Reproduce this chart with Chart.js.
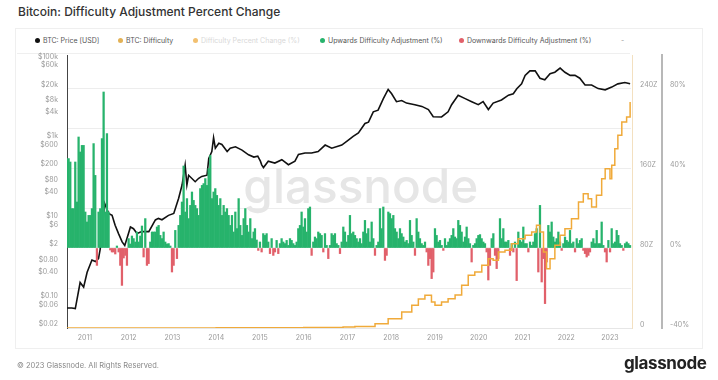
<!DOCTYPE html>
<html><head><meta charset="utf-8">
<script src="https://cdn.jsdelivr.net/npm/chart.js@4.4.0/dist/chart.umd.min.js"></script>
<style>
html,body{margin:0;padding:0;background:#fff;}
body{width:718px;height:380px;position:relative;overflow:hidden;font-family:Inter,"Noto Sans",sans-serif;}
#title{position:absolute;left:18px;top:4px;font-size:12px;font-weight:500;color:#333;line-height:16px;white-space:nowrap;}
#card{position:absolute;left:15px;top:28px;width:686px;height:319px;border:1px solid #efefef;}
#legendbox{position:absolute;left:17px;top:30px;width:613px;height:23px;border-bottom:1px solid #efefef;}
.li{position:absolute;top:36px;font-size:7px;color:#555;white-space:nowrap;line-height:10px;}
.dot{display:inline-block;width:5px;height:5px;border-radius:50%;margin-right:3px;}
canvas{position:absolute;left:0;top:0;}
#foot{position:absolute;left:17px;top:361px;font-size:7.5px;color:#888;white-space:nowrap;}
#logo{position:absolute;left:624px;top:353px;font-size:17px;font-weight:700;color:#222;letter-spacing:-0.4px;}
</style></head>
<body>
<div id="title">Bitcoin: Difficulty Adjustment Percent Change</div>
<div id="card"></div>
<div id="legendbox"></div>
<div class="li" style="left:35px"><span class="dot" style="background:#111"></span>BTC: Price [USD]</div>
<div class="li" style="left:118px"><span class="dot" style="background:#e3b256"></span>BTC: Difficulty</div>
<div class="li" style="left:193px;color:#d8d8d8"><span class="dot" style="background:#f2c070"></span>Difficulty Percent Change (%)</div>
<div class="li" style="left:320px"><span class="dot" style="background:#27b36c"></span>Upwards Difficulty Adjustment (%)</div>
<div class="li" style="left:459px"><span class="dot" style="background:#e1606a"></span>Downwards Difficulty Adjustment (%)</div>
<div class="li" style="left:621px;color:#999">-</div>
<canvas id="c" width="718" height="380"></canvas>
<div id="foot">© 2023 Glassnode. All Rights Reserved.</div>
<div id="logo">glassnode</div>
<script>
// ---- data ----
const xTickYears = [2011,2012,2013,2014,2015,2016,2017,2018,2019,2020,2021,2022,2023];
const priceTicks = [0.02,0.06,0.1,0.4,0.8,2,6,10,40,80,200,600,1000,4000,8000,20000,60000,100000];
const priceTickLabels = ['$0.02','$0.06','$0.10','$0.40','$0.80','$2','$6','$10','$40','$80','$200','$600','$1k','$4k','$8k','$20k','$60k','$100k'];
const diffTicks = [0,80,160,240];
const pctTicks = [-40,-20,0,20,40,60,80];

const priceSeries = [
[2010.59,0.06],[2010.70,0.06],[2010.78,0.058],[2010.82,0.10],[2010.89,0.26],[2010.97,0.2],[2011.05,0.47],[2011.16,0.95],[2011.24,0.87],[2011.31,1.03],[2011.35,1.8],[2011.45,25],[2011.54,14],[2011.62,12.5],[2011.69,7.1],[2011.77,4.3],[2011.85,2.7],[2011.91,2.2],[2011.96,3.3],
[2012.04,6.4],[2012.11,5.8],[2012.19,4.4],[2012.30,4.9],[2012.46,4.9],[2012.61,9.6],[2012.68,10.5],[2012.76,9.7],[2012.91,12.5],
[2013.03,14],[2013.14,33],[2013.22,72],[2013.29,225],[2013.33,72],[2013.37,126],[2013.52,87],[2013.60,106],[2013.67,118],[2013.79,127],[2013.83,335],[2013.90,495],[2013.94,1100],[2013.98,600],
[2014.06,800],[2014.13,745],[2014.25,495],[2014.32,600],[2014.44,650],[2014.59,540],[2014.74,410],[2014.86,360],[2014.95,380],
[2015.01,285],[2015.04,230],[2015.08,197],[2015.19,285],[2015.34,255],[2015.50,310],[2015.65,232],[2015.80,285],[2015.88,420],
[2016.03,455],[2016.18,455],[2016.33,495],[2016.49,720],[2016.64,600],[2016.87,720],
[2017.02,960],[2017.13,1190],[2017.25,1450],[2017.40,2500],[2017.48,2700],[2017.59,4900],[2017.70,5400],[2017.82,10500],[2017.93,17800],
[2018.01,13900],[2018.12,8800],[2018.24,9400],[2018.35,8100],[2018.54,7400],[2018.70,6700],[2018.85,5600],[2018.96,3700],
[2019.15,3650],[2019.30,4900],[2019.38,7400],[2019.53,12800],[2019.69,10500],[2019.84,8800],[2019.99,7400],
[2020.10,8800],[2020.22,5600],[2020.33,8100],[2020.52,9700],[2020.68,12800],[2020.79,13900],[2020.87,18600],[2020.98,24600],
[2021.06,40000],[2021.17,52000],[2021.29,52000],[2021.40,34000],[2021.51,31000],[2021.63,44000],[2021.74,48000],[2021.86,61000],[2021.97,48000],
[2022.09,40000],[2022.20,40000],[2022.31,34000],[2022.43,23000],[2022.58,23000],[2022.73,18700],[2022.89,17400],
[2023.04,20400],[2023.18,24600],[2023.34,26500],[2023.46,24800]
];

const difficultySeries = [
[2010.59,0],[2014.0,0.2],[2016.0,0.5],[2016.9,1],[2017.17,1.5],[2017.63,4.3],[2017.93,9.3],[2018.24,16],[2018.47,22.7],[2018.62,29],[2018.77,32.7],[2018.92,26],
[2019.00,22.7],[2019.15,26],[2019.30,29.3],[2019.46,33],[2019.61,42.7],[2019.76,52.7],[2019.91,56],[2020.07,62.7],[2020.22,69.3],[2020.33,67.7],[2020.45,76],[2020.60,77.7],
[2020.75,84.3],[2020.90,89.3],[2021.06,92.7],[2021.21,96],[2021.32,102.7],[2021.40,96],[2021.48,76],[2021.55,59.3],[2021.63,69.3],[2021.74,82.7],[2021.86,92.7],[2021.97,99.3],
[2022.12,109.3],[2022.28,126],[2022.39,134.3],[2022.50,129.3],[2022.58,121],[2022.69,132.7],[2022.81,149.3],[2022.89,159.3],[2023.00,149.3],[2023.04,162.7],
[2023.11,179.3],[2023.18,192.7],[2023.27,206],[2023.38,211],[2023.46,226]
];

const adjustmentSeries = [
[2010.589,44.7],[2010.627,44.7],[2010.665,43],[2010.703,19.7],[2010.741,19.7],[2010.779,43],[2010.817,23],[2010.855,55.5],[2010.893,48],[2010.931,51.3],
[2010.970,51.3],[2011.008,18],[2011.046,13],[2011.084,16.3],[2011.122,16.3],[2011.160,19.7],[2011.198,52.2],[2011.236,36.3],[2011.274,-8.7],[2011.312,18],
[2011.350,19.7],[2011.389,54.7],[2011.427,78],[2011.465,18],[2011.503,57.2],[2011.541,18],[2011.579,-1],[2011.617,-2],[2011.655,-2],[2011.693,-3],
[2011.731,1],[2011.770,-2],[2011.808,-8.7],[2011.846,-18.7],[2011.884,-5],[2011.922,-3.7],[2011.960,-8.7],[2011.998,4.7],[2012.036,2],[2012.074,6],
[2012.112,4.7],[2012.151,3],[2012.189,8],[2012.227,3],[2012.265,6],[2012.303,11],[2012.341,-4.5],[2012.379,14.7],[2012.417,-8.7],[2012.455,-7.8],
[2012.493,3],[2012.532,8],[2012.570,8],[2012.608,8],[2012.646,10.5],[2012.684,11.3],[2012.722,6.3],[2012.760,4.7],[2012.798,8],[2012.836,3],
[2012.874,2],[2012.913,2.2],[2012.951,1],[2012.989,-12],[2013.027,-8.7],[2013.065,8.8],[2013.103,-5.3],[2013.141,11.3],[2013.179,16.3],[2013.217,23],
[2013.255,41],[2013.294,18],[2013.332,24.7],[2013.370,14.7],[2013.408,21.3],[2013.446,28],[2013.484,23.8],[2013.522,21.3],[2013.560,19.7],[2013.598,16.3],
[2013.636,29.7],[2013.675,31.3],[2013.713,32.2],[2013.751,34.7],[2013.789,31.3],[2013.827,39.7],[2013.865,46.3],[2013.903,24.7],[2013.941,28],[2013.979,29.7],
[2014.017,26.3],[2014.056,21.3],[2014.094,24.7],[2014.132,16.3],[2014.170,21.3],[2014.208,18],[2014.246,19.7],[2014.284,16.3],[2014.322,11.3],[2014.360,16.3],
[2014.398,8],[2014.437,18],[2014.475,9.7],[2014.513,24.7],[2014.551,11.3],[2014.589,6.3],[2014.627,14.7],[2014.665,19.7],[2014.703,11.3],[2014.741,8],
[2014.779,14.7],[2014.818,4.7],[2014.856,8],
[2014.886,9.7],[2014.924,4],[2014.962,-1.2],[2015.000,3],[2015.038,-2],[2015.076,7.2],[2015.114,6.3],[2015.152,7.2],[2015.190,3],[2015.229,-2.8],
[2015.267,4.7],[2015.305,-3.7],[2015.343,-2],[2015.381,3.8],[2015.419,-2.8],[2015.457,2.2],[2015.495,4.7],[2015.533,3],[2015.571,2.2],[2015.610,3.8],
[2015.648,1.3],[2015.686,4.7],[2015.724,3.8],[2015.762,2.2],[2015.800,1.3],[2015.838,3],[2015.876,9.7],[2015.914,11.3],[2015.952,18],[2015.991,10.5],
[2016.029,14.7],[2016.067,8],[2016.105,19.7],[2016.143,20.5],[2016.181,-3.7],[2016.219,3],[2016.257,5.5],[2016.295,4.7],[2016.333,8],[2016.372,7.2],
[2016.410,6.3],[2016.448,-2],[2016.486,7.2],[2016.524,1.3],[2016.562,-5.3],[2016.600,1.3],[2016.638,7.2],[2016.676,6.3],[2016.714,7.2],[2016.753,2.2],
[2016.791,1.3],[2016.829,-2.8],[2016.867,3],[2016.905,10.5],[2016.943,8],[2016.981,3],[2017.019,6.3],[2017.057,16.3],[2017.095,7.2],[2017.133,8],
[2017.172,6.3],[2017.210,4.7],[2017.248,3],[2017.286,4.7],[2017.324,2.2],[2017.362,8],[2017.400,13.8],[2017.438,7.2],[2017.476,9.7],[2017.514,3],
[2017.553,13],[2017.591,4.7],[2017.629,-3.7],[2017.667,1.3],[2017.705,3],[2017.743,19.7],[2017.781,9.7],[2017.819,20.5],[2017.857,-6.2],[2017.895,-3.7],
[2017.934,18],[2017.972,17.2],[2018.010,14.7],[2018.048,16.3],[2018.086,9.7],[2018.124,8],[2018.162,4.7],[2018.200,9.7],[2018.238,7.2],[2018.276,5.5],
[2018.315,3],[2018.353,3.8],[2018.391,2.2],[2018.429,13.8],[2018.467,6.3],[2018.505,3],[2018.543,-3.7],[2018.581,14.7],[2018.619,8],[2018.657,4.7],
[2018.696,2.2],[2018.734,1.3],[2018.772,3],[2018.810,-2],[2018.848,-8.7],[2018.886,-5.3],[2018.924,-15.3],[2018.962,-12],[2019.000,9.7],[2019.038,6.3],
[2019.077,3],[2019.115,3.8],[2019.153,1.3],[2019.191,-1.2],
[2019.229,4.7],[2019.267,1.3],[2019.305,3],[2019.343,4.7],[2019.381,6.3],[2019.419,9.7],[2019.457,5.5],[2019.495,4.7],[2019.533,13.8],[2019.572,11.3],
[2019.610,8],[2019.648,3],[2019.686,5.5],[2019.724,10.5],[2019.762,4.7],[2019.800,2.2],[2019.838,-7],[2019.876,1.3],[2019.915,2.2],[2019.953,4.7],
[2019.991,6.3],[2020.029,6.7],[2020.067,4.7],[2020.105,3],[2020.143,2.2],[2020.181,-2],[2020.219,-16],[2020.257,-8.7],[2020.296,4.7],[2020.334,7.2],
[2020.372,-3.7],[2020.410,-10.3],[2020.448,-5.3],[2020.486,14.7],[2020.524,4.7],[2020.562,9.7],[2020.600,3],[2020.638,3],[2020.677,3.8],[2020.715,-3.7],
[2020.753,2.2],[2020.791,-2],[2020.829,3],[2020.867,-16.3],[2020.905,8],[2020.943,3.8],[2020.981,3],[2021.019,10.5],[2021.058,2.2],[2021.096,2.2],
[2021.134,-2],[2021.172,3],[2021.210,1.3],[2021.248,3],[2021.286,7.2],[2021.324,9.7],[2021.362,-12],[2021.400,21.3],[2021.439,-17],[2021.477,-5.3],
[2021.515,-27.8],[2021.553,-7],[2021.591,11.3],[2021.629,8],[2021.667,13],[2021.705,5.5],[2021.743,3],[2021.781,4.7],[2021.820,8],[2021.858,3],
[2021.896,-1.2],[2021.934,2.2],[2021.972,5.5],[2022.010,3.8],[2022.048,3],[2022.086,8.8],[2022.124,2.2],[2022.162,3],[2022.201,-2],[2022.239,4.7],
[2022.277,2.2],[2022.315,3.8],[2022.353,4.7],[2022.391,-1.2],[2022.429,-2.8],[2022.467,-4.5],[2022.505,-3.7],[2022.543,-2],[2022.582,3],[2022.620,4.7],
[2022.658,2.2],[2022.696,8.8],[2022.734,2.2],[2022.772,2.2],[2022.810,13],[2022.848,1.3],[2022.886,-2],[2022.924,-7],[2022.963,3.8],[2023.001,-2],
[2023.039,9.7],[2023.077,2.2],[2023.115,3],[2023.153,8.8],[2023.191,6.3],[2023.229,2.2],[2023.267,1.3],[2023.305,-1.2],[2023.344,2.2],[2023.382,3],
[2023.420,2.2],[2023.458,1.3]
];

// ---- chart ----
const upData = adjustmentSeries.map(([x,y]) => ({x, y: y > 0 ? y : null}));
const downData = adjustmentSeries.map(([x,y]) => ({x, y: y < 0 ? y : null}));
const tickFont = {family: 'Inter', size: 7};
const tickColor = '#9a9a9a';

const watermark = {
  id: 'watermark',
  beforeDatasetsDraw(chart) {
    const {ctx, chartArea: a} = chart;
    ctx.save();
    ctx.font = '500 50px Inter';
    const w = ctx.measureText('glassnode').width;
    const size = 50 * 235 / w;
    ctx.font = '500 ' + size + 'px Inter';
    ctx.fillStyle = '#e6e6e6';
    ctx.textBaseline = 'middle';
    ctx.textAlign = 'center';
    ctx.fillText('glassnode', a.left + a.width * 0.52, a.top + a.height * 0.49);
    ctx.restore();
  }
};

new Chart(document.getElementById('c'), {
  type: 'bar',
  data: {
    datasets: [
      {type: 'line', label: 'BTC: Difficulty', data: difficultySeries.map(([x,y]) => ({x,y})), yAxisID: 'yDiff',
       borderColor: '#f0aa3a', borderWidth: 1.5, pointRadius: 0, stepped: true, order: 0},
      {type: 'bar', label: 'Upwards Difficulty Adjustment (%)', data: upData, yAxisID: 'yPct',
       backgroundColor: '#27b36c', barThickness: 1.6, grouped: false, order: 1},
      {type: 'bar', label: 'Downwards Difficulty Adjustment (%)', data: downData, yAxisID: 'yPct',
       backgroundColor: '#e1606a', barThickness: 1.6, grouped: false, order: 1},
      {type: 'line', label: 'BTC: Price [USD]', data: priceSeries.map(([x,y]) => ({x,y})), yAxisID: 'yPrice',
       borderColor: '#111', borderWidth: 1.6, pointRadius: 0, tension: 0, order: 2}
    ]
  },
  options: {
    responsive: false, animation: false, devicePixelRatio: 1,
    layout: {padding: {top: 55, bottom: 30, left: 0, right: 16}},
    plugins: {legend: {display: false}, tooltip: {enabled: false}},
    scales: {
      x: {
        type: 'linear', offset: false, min: 2010.59, max: 2023.503,
        afterBuildTicks: s => { s.ticks = xTickYears.map(v => ({value: v})); },
        afterFit: s => { s.height = 22; },
        grid: {display: false, drawTicks: false},
        border: {display: true, color: '#e6e6e6'},
        ticks: {font: tickFont, color: tickColor, padding: 6, maxRotation: 0, callback: v => String(v)}
      },
      yPrice: {
        type: 'logarithmic', position: 'left', min: 0.01888, max: 129800,
        afterBuildTicks: s => { s.ticks = priceTicks.map(v => ({value: v})); },
        afterFit: s => { s.width = 67; },
        grid: {display: false, drawTicks: false},
        border: {display: true, color: '#444', width: 1},
        ticks: {font: tickFont, color: tickColor, padding: 9, labelOffset: -3, autoSkip: false,
                callback: (v, i) => priceTickLabels[i]}
      },
      yDiff: {
        type: 'linear', position: 'right', weight: 0, min: 0, max: 273,
        afterBuildTicks: s => { s.ticks = diffTicks.map(v => ({value: v})); },
        afterFit: s => { s.width = 30; },
        grid: {display: false, drawTicks: false},
        border: {display: true, color: '#f3e0c0', width: 1},
        ticks: {font: tickFont, color: tickColor, padding: 8, labelOffset: -3,
                callback: v => v === 0 ? '0' : v + 'Z'}
      },
      yPct: {
        type: 'linear', position: 'right', weight: 1, min: -40, max: 96.5,
        afterBuildTicks: s => { s.ticks = pctTicks.map(v => ({value: v})); },
        afterFit: s => { s.width = 40; },
        grid: {display: true, color: '#ededed', drawTicks: false},
        border: {display: true, color: '#b8b8b8', width: 2},
        ticks: {font: tickFont, color: tickColor, padding: 8, labelOffset: -3,
                callback: v => (v % 40 === 0) ? v + '%' : ''}
      }
    }
  },
  plugins: [watermark]
});
</script>
</body></html>
